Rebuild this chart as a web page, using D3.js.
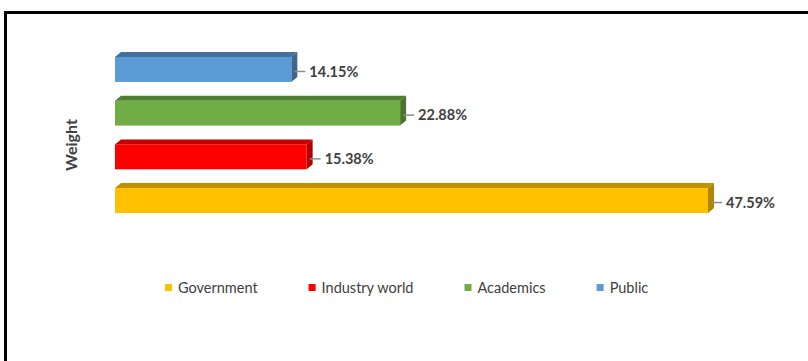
<!DOCTYPE html>
<html>
<head>
<meta charset="utf-8">
<script src="https://cdn.jsdelivr.net/npm/d3@7"></script>
<style>
  body { margin: 0; background: #fff; }
  svg { display: block; font-family: Lato, "Open Sans", sans-serif; }
</style>
</head>
<body>
<svg id="chart" width="808" height="361"></svg>
<script>
// data, top to bottom as drawn
const categories = ["Public", "Academics", "Industry world", "Government"];
const weights = [14.15, 22.88, 15.38, 47.59];
const legendOrder = ["Government", "Industry world", "Academics", "Public"];

const front = {"Public": "#5b9bd5", "Academics": "#70ad47", "Industry world": "#ff0000", "Government": "#ffc000"};
const top3d = {"Public": "#41719c", "Academics": "#507e32", "Industry world": "#c00000", "Government": "#bf9000"};
const side3d = {"Public": "#3a6690", "Academics": "#4a742e", "Industry world": "#b00000", "Government": "#b08500"};

const svg = d3.select("svg#chart");
const depthX = 6, depthY = 5;

// frame
svg.append("path")
  .attr("d", "M5.5,361 L5.5,12.5 L808,12.5")
  .attr("fill", "none")
  .attr("stroke", "#000")
  .attr("stroke-width", 3);

const x = d3.scaleLinear().domain([0, 47.59]).range([115, 708]);
const y = d3.scaleBand().domain(categories).range([57, 213]).paddingInner(0.43).paddingOuter(0);

const bars = svg.append("g").selectAll("g")
  .data(categories)
  .join("g");

bars.each(function(c, i) {
  const g = d3.select(this);
  const x0 = x(0), x1 = x(weights[i]);
  const y0 = y(c), h = y.bandwidth();

  g.append("polygon")
    .attr("points", [[x0, y0], [x0 + depthX, y0 - depthY], [x1 + depthX, y0 - depthY], [x1, y0]].join(" "))
    .attr("fill", top3d[c]);
  g.append("polygon")
    .attr("points", [[x1, y0], [x1 + depthX, y0 - depthY], [x1 + depthX, y0 + h - depthY], [x1, y0 + h]].join(" "))
    .attr("fill", side3d[c]);
  g.append("rect")
    .attr("x", x0).attr("y", y0)
    .attr("width", x1 - x0).attr("height", h)
    .attr("fill", front[c]);

  // leader + label
  const cy = y0 + h / 2 + 2;
  g.append("line")
    .attr("x1", x1 + 3).attr("x2", x1 + 14)
    .attr("y1", cy).attr("y2", cy)
    .attr("stroke", "#8c8c8c").attr("stroke-width", 1.5);
  g.append("text")
    .attr("x", x1 + 18)
    .attr("y", cy)
    .attr("dy", "0.35em")
    .attr("font-size", 14.5)
    .attr("font-weight", "bold")
    .attr("fill", "#404040")
    .text(weights[i].toFixed(2) + "%");
});

// axis title
svg.append("text")
  .attr("transform", "translate(77,145) rotate(-90)")
  .attr("text-anchor", "middle")
  .attr("font-size", 16)
  .attr("font-weight", "bold")
  .attr("fill", "#404040")
  .text("Weight");

// legend, laid out with an even gap after each label
const leg = svg.append("g").attr("transform", "translate(165,288)");
let lx = 0;
legendOrder.forEach(d => {
  const item = leg.append("g").attr("transform", "translate(" + lx + ",0)");
  item.append("rect")
    .attr("x", 0).attr("y", -4)
    .attr("width", 7).attr("height", 7)
    .attr("fill", front[d]);
  const t = item.append("text")
    .attr("x", 13).attr("y", 0)
    .attr("dy", "0.35em")
    .attr("font-size", 14.5)
    .attr("fill", "#404040")
    .text(d);
  lx += 13 + t.node().getComputedTextLength() + 51;
});
</script>
</body>
</html>
